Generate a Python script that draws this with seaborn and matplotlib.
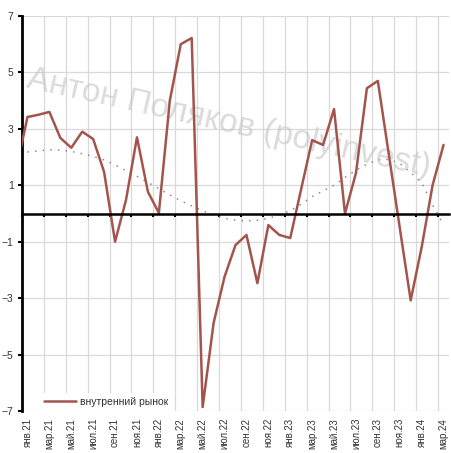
import numpy as np
import pandas as pd
import matplotlib.pyplot as plt
import seaborn as sns

# monthly series, Dec 2020 is only there so the line enters from the left edge
months = ['дек.20',
          'янв.21', 'фев.21', 'мар.21', 'апр.21', 'май.21', 'июн.21',
          'июл.21', 'авг.21', 'сен.21', 'окт.21', 'ноя.21', 'дек.21',
          'янв.22', 'фев.22', 'мар.22', 'апр.22', 'май.22', 'июн.22',
          'июл.22', 'авг.22', 'сен.22', 'окт.22', 'ноя.22', 'дек.22',
          'янв.23', 'фев.23', 'мар.23', 'апр.23', 'май.23', 'июн.23',
          'июл.23', 'авг.23', 'сен.23', 'окт.23', 'ноя.23', 'дек.23',
          'янв.24', 'фев.24', 'мар.24']

domestic = [1.6,
            3.42, 3.5, 3.6, 2.68, 2.33, 2.9,
            2.64, 1.47, -1.0, 0.48, 2.7, 0.77,
            0.02, 4.0, 6.0, 6.22, -6.86, -3.88,
            -2.24, -1.12, -0.76, -2.47, -0.41, -0.76,
            -0.87, 0.87, 2.6, 2.43, 3.7, 0.0,
            1.43, 4.44, 4.7, 2.1, -0.5, -3.08,
            -1.2, 1.0, 2.43]

trend = [np.nan,
         2.18, 2.22, 2.26, 2.25, 2.2, 2.12,
         2.02, 1.9, 1.72, 1.52, 1.32, 1.1,
         0.88, 0.66, 0.45, 0.27, 0.1, -0.07,
         -0.17, -0.23, -0.26, -0.24, -0.17, -0.06,
         0.1, 0.33, 0.6, 0.8, 1.0, 1.28,
         1.53, 1.75, 1.9, 1.92, 1.78, 1.45,
         1.1, 0.3, -0.4]

yticks = [-7, -5, -3, -1, 1, 3, 5, 7]

df = pd.DataFrame({'pos': np.arange(len(months)), 'month': months,
                   'domestic': domestic, 'trend': trend})

sns.set_theme(style='white')
plt.rcParams['font.family'] = ['Liberation Sans', 'DejaVu Sans']

fig = plt.figure(figsize=(4.52, 4.53), dpi=100)
ax = fig.add_axes([22/452, 1 - 411/453, 427/452, 395/453])

sns.lineplot(data=df, x='pos', y='trend', ax=ax, color='#8c8c8c', lw=1.1,
             linestyle=(0, (1, 4)), zorder=3)
sns.lineplot(data=df, x='pos', y='domestic', ax=ax, color='#a3554d', lw=1.8,
             label='внутренний рынок', zorder=4)

ax.set_xlim(0.5, len(months) - 0.5)
ax.set_ylim(-7, 7)
ax.set_xlabel('')
ax.set_ylabel('')

# grid every second month, ticks on the zero line
ax.set_xticks(np.arange(0.5, len(months) - 0.5, 2))
ax.set_yticks(yticks)
ax.grid(True, color='#d9d9d9', lw=0.9)
ax.set_axisbelow(True)

for s in ['top', 'right']:
    ax.spines[s].set_visible(False)
ax.spines['bottom'].set_position(('data', 0))
ax.spines['bottom'].set_linewidth(1.8)
ax.spines['bottom'].set_color('black')
ax.spines['bottom'].set_zorder(5)
ax.spines['left'].set_linewidth(2)
ax.spines['left'].set_color('black')
ax.tick_params(axis='x', bottom=True, length=2.5, width=1.5, color='black',
               direction='out', labelbottom=False)
ax.tick_params(axis='y', left=True, length=3, width=1.5, color='black',
               labelsize=7.5, labelcolor='#333333', pad=3)

sec = ax.secondary_xaxis('bottom')
sec.set_xticks(df['pos'][1::2], labels=df['month'][1::2])
sec.tick_params(length=0, pad=5, labelsize=7, labelcolor='#333333',
                labelrotation=90)
sec.spines['bottom'].set_visible(False)

ax.text(0.485, 0.728, 'Антон Поляков (polyinvest)', transform=ax.transAxes,
        fontsize=24, color='#c4c4c4', alpha=0.6, rotation=-12.5,
        ha='center', va='center', zorder=3.5)

leg = ax.legend(loc='lower left', bbox_to_anchor=(0.042, 0.0),
                borderaxespad=0, fontsize=7.5, handlelength=3.1,
                handletextpad=0.3, frameon=True, fancybox=False,
                framealpha=1, facecolor='white', edgecolor='none')
for t in leg.get_texts():
    t.set_color('#333333')

fig.savefig('out.png', dpi=100)
